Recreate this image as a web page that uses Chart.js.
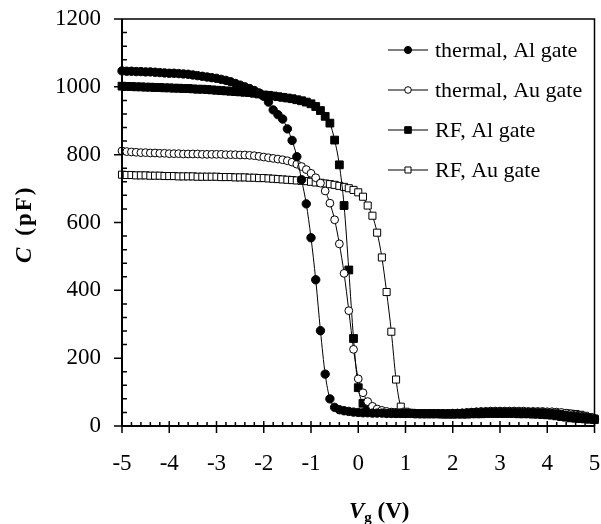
<!DOCTYPE html>
<html>
<head>
<meta charset="utf-8">
<script src="https://cdn.jsdelivr.net/npm/chart.js@4.4.0/dist/chart.umd.min.js"></script>
<style>
html,body{margin:0;padding:0;background:#fff}
</style>
</head>
<body>
<canvas id="myChart" width="601" height="524"></canvas>
<script>
// gate voltage (V), 0.1 V steps
const voltage = [
 -5.0,-4.9,-4.8,-4.7,-4.6,-4.5,-4.4,-4.3,-4.2,-4.1,
 -4.0,-3.9,-3.8,-3.7,-3.6,-3.5,-3.4,-3.3,-3.2,-3.1,
 -3.0,-2.9,-2.8,-2.7,-2.6,-2.5,-2.4,-2.3,-2.2,-2.1,
 -2.0,-1.9,-1.8,-1.7,-1.6,-1.5,-1.4,-1.3,-1.2,-1.1,
 -1.0,-0.9,-0.8,-0.7,-0.6,-0.5,-0.4,-0.3,-0.2,-0.1,
  0.0, 0.1, 0.2, 0.3, 0.4, 0.5, 0.6, 0.7, 0.8, 0.9,
  1.0, 1.1, 1.2, 1.3, 1.4, 1.5, 1.6, 1.7, 1.8, 1.9,
  2.0, 2.1, 2.2, 2.3, 2.4, 2.5, 2.6, 2.7, 2.8, 2.9,
  3.0, 3.1, 3.2, 3.3, 3.4, 3.5, 3.6, 3.7, 3.8, 3.9,
  4.0, 4.1, 4.2, 4.3, 4.4, 4.5, 4.6, 4.7, 4.8, 4.9, 5.0
]

// capacitance (pF)
const thermalAl = [
 1047,1046,1046,1045,1045,1044,1044,1043,1042,1041,
 1040,1040,1039,1038,1037,1035,1033,1031,1029,1027,
 1025,1022,1019,1015,1010,1005,1000,995,989,982,
 972,955,932,918,905,876,842,794,726,655,
 555,431,281,153,80,55,48,45,43,41,
 40,39,39,38,38,38,37,37,37,37,
 37,37,36,36,36,36,36,36,36,36,
 36,37,37,38,39,40,40,41,41,41,
 41,41,41,41,40,40,40,40,39,39,
 38,37,36,34,32,30,28,26,24,22,20
]
const thermalAu = [
 811,809,808,807,806,806,805,805,804,804,
 803,803,803,802,802,802,802,801,801,801,
 801,801,800,800,800,799,799,798,797,795,
 793,791,789,787,785,782,778,772,765,756,
 745,732,716,693,657,608,537,450,340,226,
 139,98,72,58,50,46,43,41,40,39,
 38,38,38,37,37,37,37,37,37,37,
 38,38,39,40,41,42,43,43,44,44,
 44,44,44,44,44,44,43,43,43,43,
 42,42,41,40,38,36,33,30,27,24,22
]
const rfAl = [
 1002,1001,1001,1000,1000,999,999,998,998,997,
 997,996,996,995,995,994,993,993,992,991,
 990,989,988,987,986,985,984,983,981,979,
 976,975,973,971,969,967,965,962,959,955,
 950,942,930,913,893,843,770,650,460,258,
 113,67,52,46,43,41,40,39,38,38,
 37,37,37,36,36,36,36,36,35,35,
 35,35,35,35,36,36,36,37,37,37,
 37,37,37,37,36,36,36,35,35,34,
 33,32,30,28,26,24,23,22,21,20,19
]
const rfAu = [
 741,740,740,739,739,739,738,738,738,737,
 737,737,736,736,736,736,735,735,735,735,
 735,734,734,734,733,733,733,732,732,731,
 731,730,729,728,727,726,725,724,723,722,
 720,718,717,715,713,711,708,705,701,696,
 689,676,650,620,570,497,395,278,137,57,
 42,39,38,37,37,37,36,36,36,36,
 36,36,36,36,37,37,37,37,38,38,
 38,38,38,38,38,38,38,38,38,38,
 38,38,38,37,37,36,35,33,30,26,22
]

const labels = ['thermal, Al gate', 'thermal, Au gate', 'RF, Al gate', 'RF, Au gate']
const xTicks = [-5, -4, -3, -2, -1, 0, 1, 2, 3, 4, 5]
const yTicks = [0, 200, 400, 600, 800, 1000, 1200]

const FONT = '"Liberation Serif", "Times New Roman", serif'

const styles = [
  {pointStyle: 'circle', radius: 4.2, fill: '#000'},
  {pointStyle: 'circle', radius: 3.9, fill: '#fff'},
  {pointStyle: 'rect', radius: 5.5, fill: '#000'},
  {pointStyle: 'rect', radius: 5, fill: '#fff'}
]
const values = [thermalAl, thermalAu, rfAl, rfAu]

const datasets = values.map((vals, k) => ({
  label: labels[k],
  data: voltage.map((v, i) => ({x: v, y: vals[i]})),
  borderColor: '#000',
  borderWidth: 1,
  pointStyle: styles[k].pointStyle,
  pointRadius: styles[k].radius,
  pointBackgroundColor: styles[k].fill,
  pointBorderColor: '#000',
  pointBorderWidth: 1,
  cubicInterpolationMode: 'monotone',
  fill: false,
  clip: false
}))

// frame, minor ticks, axis titles and legend
const decor = {
  id: 'decor',
  afterDraw(chart) {
    const {ctx, chartArea: a, scales} = chart
    const x = scales.x, y = scales.y
    ctx.save()
    ctx.strokeStyle = '#000'
    ctx.fillStyle = '#000'

    ctx.lineWidth = 1.5
    ctx.beginPath()
    ctx.moveTo(a.left, a.top); ctx.lineTo(a.right, a.top); ctx.lineTo(a.right, a.bottom)
    ctx.stroke()
    ctx.lineWidth = 2
    ctx.beginPath()
    ctx.moveTo(a.left, a.top); ctx.lineTo(a.left, a.bottom); ctx.lineTo(a.right, a.bottom)
    ctx.stroke()

    ctx.lineWidth = 1.5
    ctx.beginPath()
    for (let i = 0; i < xTicks.length; i++) {
      const px = x.getPixelForValue(xTicks[i])
      ctx.moveTo(px, a.bottom - 5); ctx.lineTo(px, a.bottom + 7)
      if (i < xTicks.length - 1) {
        const step = (xTicks[i + 1] - xTicks[i]) / 5
        for (let j = 1; j < 5; j++) {
          const mx = x.getPixelForValue(xTicks[i] + j * step)
          ctx.moveTo(mx, a.bottom - 4); ctx.lineTo(mx, a.bottom)
        }
      }
    }
    for (let i = 0; i < yTicks.length; i++) {
      const py = y.getPixelForValue(yTicks[i])
      ctx.moveTo(a.left - 8, py); ctx.lineTo(a.left, py)
      if (i < yTicks.length - 1) {
        const step = (yTicks[i + 1] - yTicks[i]) / 5
        for (let j = 1; j < 5; j++) {
          const my = y.getPixelForValue(yTicks[i] + j * step)
          ctx.moveTo(a.left, my); ctx.lineTo(a.left + 5, my)
        }
      }
    }
    ctx.stroke()

    // x title: V_g (V)
    ctx.textBaseline = 'alphabetic'
    ctx.textAlign = 'left'
    let tx = 349
    ctx.font = 'italic bold 23px ' + FONT
    ctx.fillText('V', tx, 518)
    tx += ctx.measureText('V').width
    ctx.font = 'bold 15px ' + FONT
    ctx.fillText('g', tx, 522)
    tx += ctx.measureText('g').width
    ctx.font = 'bold 23px ' + FONT
    ctx.fillText(' (V)', tx, 518)

    // y title: C (pF)
    ctx.save()
    ctx.translate(31, 263)
    ctx.rotate(-Math.PI / 2)
    ctx.font = 'italic bold 23px ' + FONT
    ctx.fillText('C', 0, 0)
    let ty = ctx.measureText('C').width + 12
    ctx.font = 'bold 23px ' + FONT
    ctx.letterSpacing = '2px'
    ctx.fillText('(pF)', ty, 0)
    ctx.letterSpacing = '0px'
    ctx.restore()

    // legend
    ctx.font = '22px ' + FONT
    ctx.textBaseline = 'middle'
    chart.data.datasets.forEach((ds, i) => {
      const ly = 50 + 40 * i
      ctx.lineWidth = 1.2
      ctx.strokeStyle = '#000'
      ctx.beginPath(); ctx.moveTo(388, ly); ctx.lineTo(428, ly); ctx.stroke()
      ctx.fillStyle = ds.pointBackgroundColor
      ctx.lineWidth = 1
      Chart.helpers.drawPoint(ctx, {pointStyle: ds.pointStyle, radius: ds.pointRadius * 0.85, rotation: 0, borderWidth: 1}, 408, ly)
      ctx.fillStyle = '#000'
      ctx.fillText(ds.label, 435, ly + 1)
    })
    ctx.restore()
  }
}

new Chart(document.getElementById('myChart'), {
  type: 'line',
  data: {datasets: datasets},
  options: {
    responsive: false,
    animation: false,
    events: [],
    layout: {padding: {top: 19, right: 6, left: 0, bottom: 0}},
    plugins: {legend: {display: false}, tooltip: {enabled: false}},
    scales: {
      x: {
        type: 'linear', min: -5, max: 5,
        afterBuildTicks: s => { s.ticks = xTicks.map(v => ({value: v})) },
        afterFit: s => { s.height = 98; s.paddingLeft = 0; s.paddingRight = 0 },
        grid: {display: false, drawTicks: false},
        border: {display: false},
        ticks: {color: '#000', font: {family: FONT, size: 23}, padding: 24, maxRotation: 0, autoSkip: false,
          callback: v => String(v)}
      },
      y: {
        min: 0, max: 1200,
        afterBuildTicks: s => { s.ticks = yTicks.map(v => ({value: v})) },
        afterFit: s => { s.width = 122; s.paddingTop = 0; s.paddingBottom = 0 },
        grid: {display: false, drawTicks: false},
        border: {display: false},
        ticks: {color: '#000', font: {family: FONT, size: 23}, padding: 21,
          callback: v => String(v)}
      }
    }
  },
  plugins: [decor]
})
</script>
</body>
</html>
